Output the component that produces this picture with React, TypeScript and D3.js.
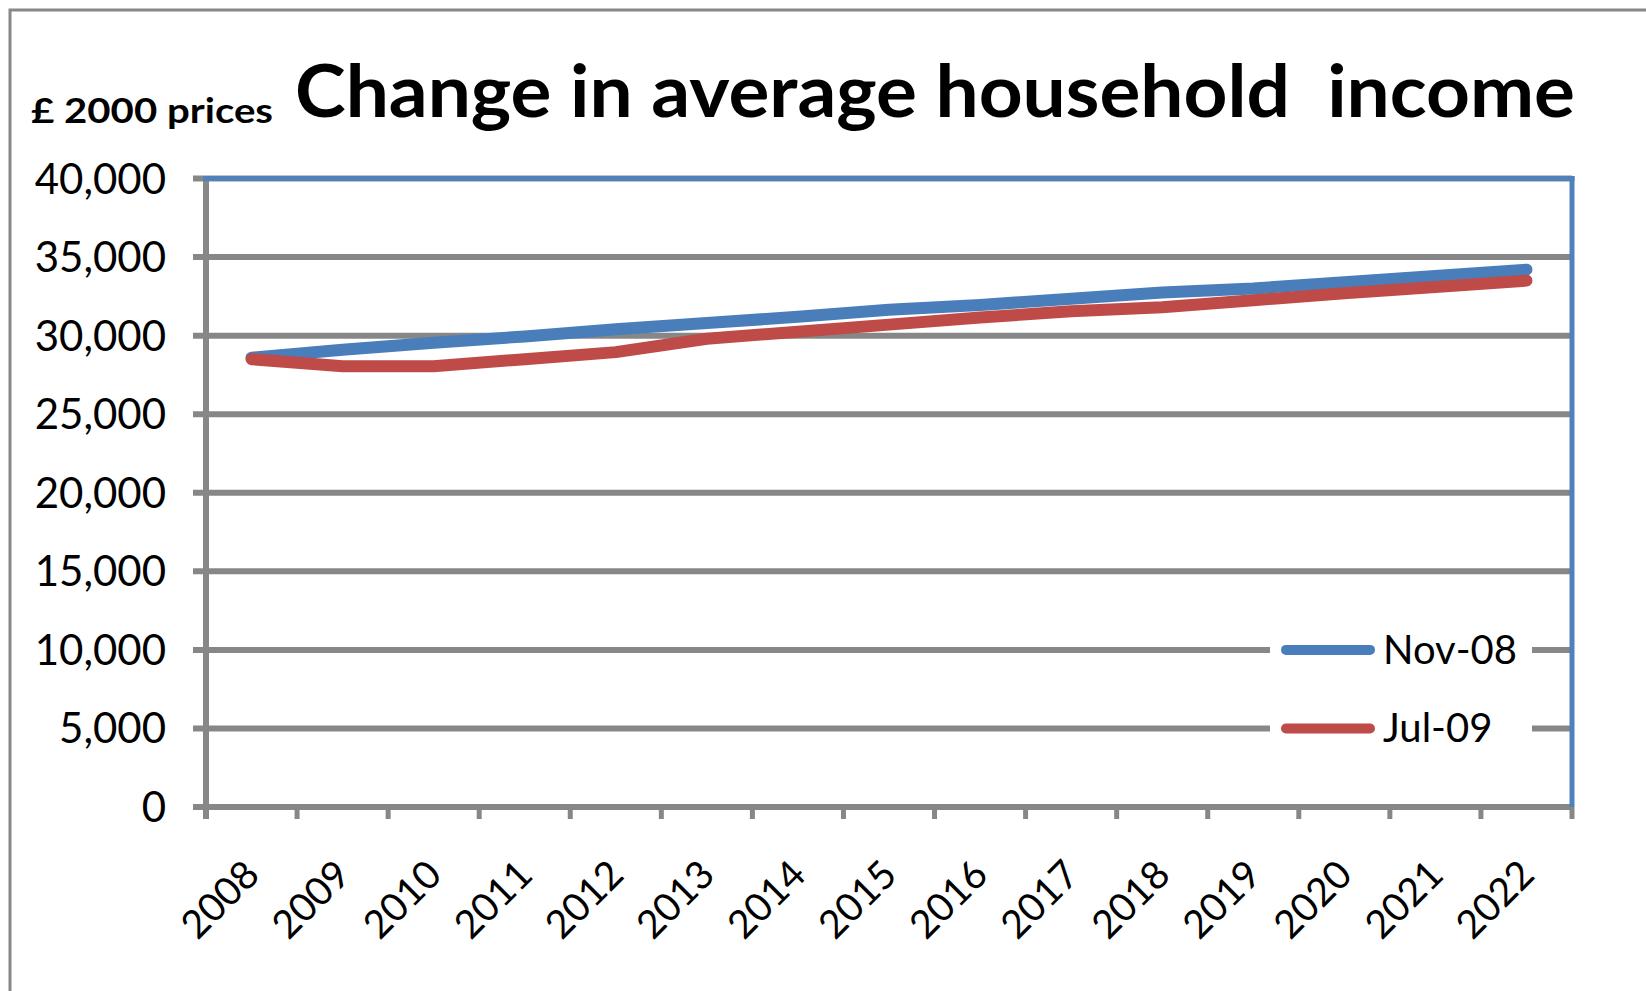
import React from "react";
import * as d3 from "d3";

const years = ["2008","2009","2010","2011","2012","2013","2014","2015","2016","2017","2018","2019","2020","2021","2022"];
const nov08 = [28600, 29100, 29550, 29950, 30400, 30800, 31200, 31650, 31950, 32350, 32750, 33000, 33400, 33800, 34200];
const jul09 = [28500, 28050, 28050, 28500, 28950, 29800, 30250, 30700, 31150, 31550, 31800, 32250, 32700, 33100, 33500];
const yTicks = [0, 5000, 10000, 15000, 20000, 25000, 30000, 35000, 40000];
const seriesNames = ["Nov-08", "Jul-09"];
const seriesColors = ["#4A7EBB", "#BE4B48"];
const titleText = "Change in average household  income";
const unitText = "£ 2000 prices";

const W = 1646, H = 991;
const L = 206, R = 1572, T = 178.5, B = 807;
const GRID = "#878787";
const FONT = "Lato, 'Open Sans', sans-serif";

export default function App() {
  const x = d3.scaleBand<string>().domain(years).range([L, R]).padding(0);
  const y = d3.scaleLinear().domain([0, 40000]).range([B, T]);
  const fmt = d3.format(",");
  const line = d3.line<number>()
    .x((_, i) => (x(years[i]) as number) + x.bandwidth() / 2)
    .y((d) => y(d));
  const series = [nov08, jul09];
  const bounds = years.map((yr) => x(yr) as number).concat([R]);

  return (
    <svg width={W} height={H} style={{ position: "absolute", left: 0, top: 0, background: "#fff" }}>
      <rect x={10} y={10} width={1700} height={1100} fill="#fff" stroke="#888" strokeWidth={3} />
      <text x={31} y={123} fontFamily={FONT} fontWeight="bold" fontSize={35} textLength={242} lengthAdjust="spacingAndGlyphs">{unitText}</text>
      <text x={295} y={117} fontFamily={FONT} fontWeight="bold" fontSize={72} textLength={1280} lengthAdjust="spacingAndGlyphs" style={{ whiteSpace: "pre" }}>{titleText}</text>

      {yTicks.map((t) => (
        <g key={t}>
          <line x1={193} x2={R} y1={y(t)} y2={y(t)} stroke={GRID} strokeWidth={6} />
          <text x={166} y={y(t) + 15} textAnchor="end" fontFamily={FONT} fontSize={42} fill="#000">{fmt(t)}</text>
        </g>
      ))}
      {bounds.map((bx, i) => (
        <line key={i} x1={bx} x2={bx} y1={B} y2={819} stroke={GRID} strokeWidth={5} />
      ))}
      <line x1={L} x2={L} y1={T} y2={819} stroke={GRID} strokeWidth={6} />
      <line x1={L - 3} x2={R + 2.5} y1={T} y2={T} stroke="#4F81BD" strokeWidth={5} />
      <line x1={R} x2={R} y1={T - 2.5} y2={B} stroke="#4F81BD" strokeWidth={5} />

      {years.map((yr) => {
        const cx = (x(yr) as number) + x.bandwidth() / 2 + 10;
        const cy = 877;
        return (
          <text key={yr} x={cx} y={cy} textAnchor="end" fontFamily={FONT} fontSize={39} transform={`rotate(-45 ${cx} ${cy})`}>{yr}</text>
        );
      })}

      {series.map((s, i) => (
        <path key={i} d={line(s) as string} fill="none" stroke={seriesColors[i]} strokeWidth={12} strokeLinecap="round" strokeLinejoin="round" />
      ))}

      <rect x={1270} y={615} width={262} height={150} fill="#fff" />
      {seriesNames.map((n, i) => {
        const ly = y(i === 0 ? 10000 : 5000);
        return (
          <g key={n}>
            <line x1={1286} x2={1370} y1={ly} y2={ly} stroke={seriesColors[i]} strokeWidth={10} strokeLinecap="round" />
            <text x={1383} y={ly + 14} fontFamily={FONT} fontSize={40}>{n}</text>
          </g>
        );
      })}
    </svg>
  );
}
